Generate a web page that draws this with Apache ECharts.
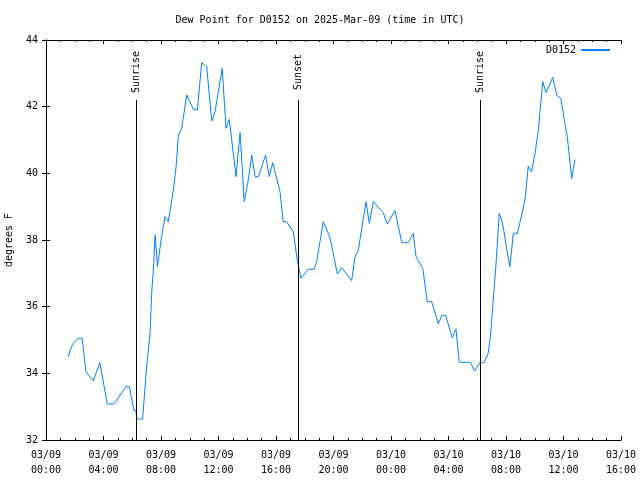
<!DOCTYPE html>
<html><head><meta charset="utf-8">
<script src="https://cdn.jsdelivr.net/npm/echarts@6/dist/echarts.min.js"></script>
<style>html,body{margin:0;padding:0;background:#fff}#c{width:640px;height:480px}</style>
</head><body><div id="c"></div>
<script>
// hours since 2025-03-09 00:00 UTC
var hours = [1.55,1.72,1.90,2.24,2.52,2.78,3.29,3.75,4.26,4.73,5.56,5.80,6.12,6.26,6.31,6.72,7.00,7.24,7.35,7.47,7.59,7.75,8.04,8.28,8.51,8.86,9.05,9.21,9.44,9.79,10.25,10.53,10.83,11.18,11.29,11.53,11.76,12.26,12.52,12.75,12.92,13.22,13.50,13.79,14.07,14.31,14.54,14.77,15.28,15.53,15.77,16.28,16.50,16.74,17.20,17.48,17.74,18.24,18.64,18.83,19.29,19.75,20.27,20.57,21.26,21.50,21.73,22.04,22.26,22.49,22.77,23.46,23.74,24.28,24.75,25.20,25.55,25.74,26.21,26.52,26.83,27.29,27.53,27.80,28.26,28.52,28.75,29.53,29.81,30.19,30.47,30.76,30.93,31.11,31.30,31.53,31.70,31.86,32.04,32.27,32.51,32.79,33.09,33.32,33.55,33.78,34.02,34.25,34.44,34.56,34.79,35.25,35.53,35.81,36.04,36.26,36.40,36.57,36.80];
var dewPoint = [34.5,34.75,34.9,35.05,35.05,34.05,33.78,34.32,33.08,33.08,33.6,33.6,32.88,32.88,32.63,32.63,34.2,35.2,36.4,37.1,38.15,37.2,38.1,38.7,38.55,39.5,40.2,41.15,41.35,42.35,41.92,41.9,43.32,43.2,43.15,41.57,41.85,43.15,41.35,41.62,41.0,39.9,41.22,39.15,39.8,40.55,39.9,39.9,40.55,39.9,40.32,39.45,38.55,38.55,38.25,37.4,36.85,37.12,37.12,37.35,38.55,38.08,36.98,37.17,36.78,37.5,37.7,38.55,39.15,38.5,39.15,38.82,38.48,38.88,37.92,37.92,38.2,37.5,37.15,36.15,36.15,35.48,35.74,35.74,35.07,35.33,34.33,34.33,34.07,34.32,34.32,34.6,35.15,36.2,37.25,38.8,38.6,38.25,37.75,37.2,38.2,38.2,38.75,39.2,40.22,40.05,40.6,41.3,42.2,42.75,42.42,42.88,42.35,42.25,41.65,41.1,40.55,39.85,40.42];
var sunEvents = ['Sunrise','Sunset','Sunrise'];
var sunHours = [6.26,17.53,30.19];
var xTicks = [0,4,8,12,16,20,24,28,32,36,40];
var yTicks = [32,34,36,38,40,42,44];

var FONT = '"DejaVu Sans Mono", monospace';
function fmtX(h){
  var d = 9 + Math.floor(h/24), hh = h % 24;
  return '03/' + (d<10?'0':'') + d + '\n' + (hh<10?'0':'') + hh + ':00';
}
var data = hours.map(function(h,i){return [h, dewPoint[i]];});
var mlData = [], mpData = [];
sunHours.forEach(function(h,i){
  mlData.push([{coord:[h,32]},{coord:[h,42.2]}]);
  mpData.push({coord:[h,43.04], value: sunEvents[i]});
});
var axisCommon = {
  axisLine:{show:true,lineStyle:{color:'#000',width:1}},
  splitLine:{show:false}
};
var tickStyle = {show:true,inside:true,length:4,lineStyle:{color:'#000'}};
var minorStyle = {show:true,splitNumber:4,length:2,lineStyle:{color:'#000'}};
var chart = echarts.init(document.getElementById('c'), null, {renderer:'canvas'});
chart.setOption({
  animation:false,
  backgroundColor:'#fff',
  title:{text:'Dew Point for D0152 on 2025-Mar-09 (time in UTC)',left:'center',top:10,
    textStyle:{fontFamily:FONT,fontSize:10,fontWeight:'normal',color:'#000'}},
  legend:{right:25,top:40,align:'right',itemWidth:29,itemHeight:2,itemGap:4,
    icon:'rect',
    textStyle:{fontFamily:FONT,fontSize:10,color:'#000'},data:['D0152']},
  grid:{left:46,right:19,top:40,bottom:40,outerBoundsMode:'none',containLabel:false},
  xAxis:[
    Object.assign({type:'value',min:0,max:40,interval:4,
      axisTick:tickStyle,minorTick:minorStyle,
      axisLabel:{formatter:fmtX,fontFamily:FONT,fontSize:10,color:'#000',margin:8,lineHeight:15,
        customValues:xTicks}
    },axisCommon),
    Object.assign({type:'value',min:0,max:40,interval:4,position:'top',
      axisTick:tickStyle,minorTick:minorStyle,
      axisLabel:{show:false}},axisCommon)
  ],
  yAxis:[
    Object.assign({type:'value',min:32,max:44,interval:2,
      name:'degrees F',nameLocation:'middle',nameGap:32,
      nameTextStyle:{fontFamily:FONT,fontSize:10,color:'#000'},
      axisTick:tickStyle,
      axisLabel:{fontFamily:FONT,fontSize:10,color:'#000',margin:8,customValues:yTicks}
    },axisCommon),
    Object.assign({type:'value',min:32,max:44,interval:2,position:'right',
      axisTick:tickStyle,
      axisLabel:{show:false}},axisCommon)
  ],
  series:[{
    name:'D0152',type:'line',data:data,showSymbol:false,symbol:'none',
    lineStyle:{color:'#0080ff',width:1},itemStyle:{color:'#0080ff'},
    markLine:{silent:true,symbol:['none','none'],animation:false,
      lineStyle:{color:'#000',width:1,type:'solid'},label:{show:false},data:mlData},
    markPoint:{silent:true,symbol:'rect',symbolSize:0,animation:false,
      label:{show:true,rotate:90,formatter:function(p){return p.value;},
        fontFamily:FONT,fontSize:10,color:'#000',position:'inside'},
      data:mpData}
  }]
});
</script></body></html>
